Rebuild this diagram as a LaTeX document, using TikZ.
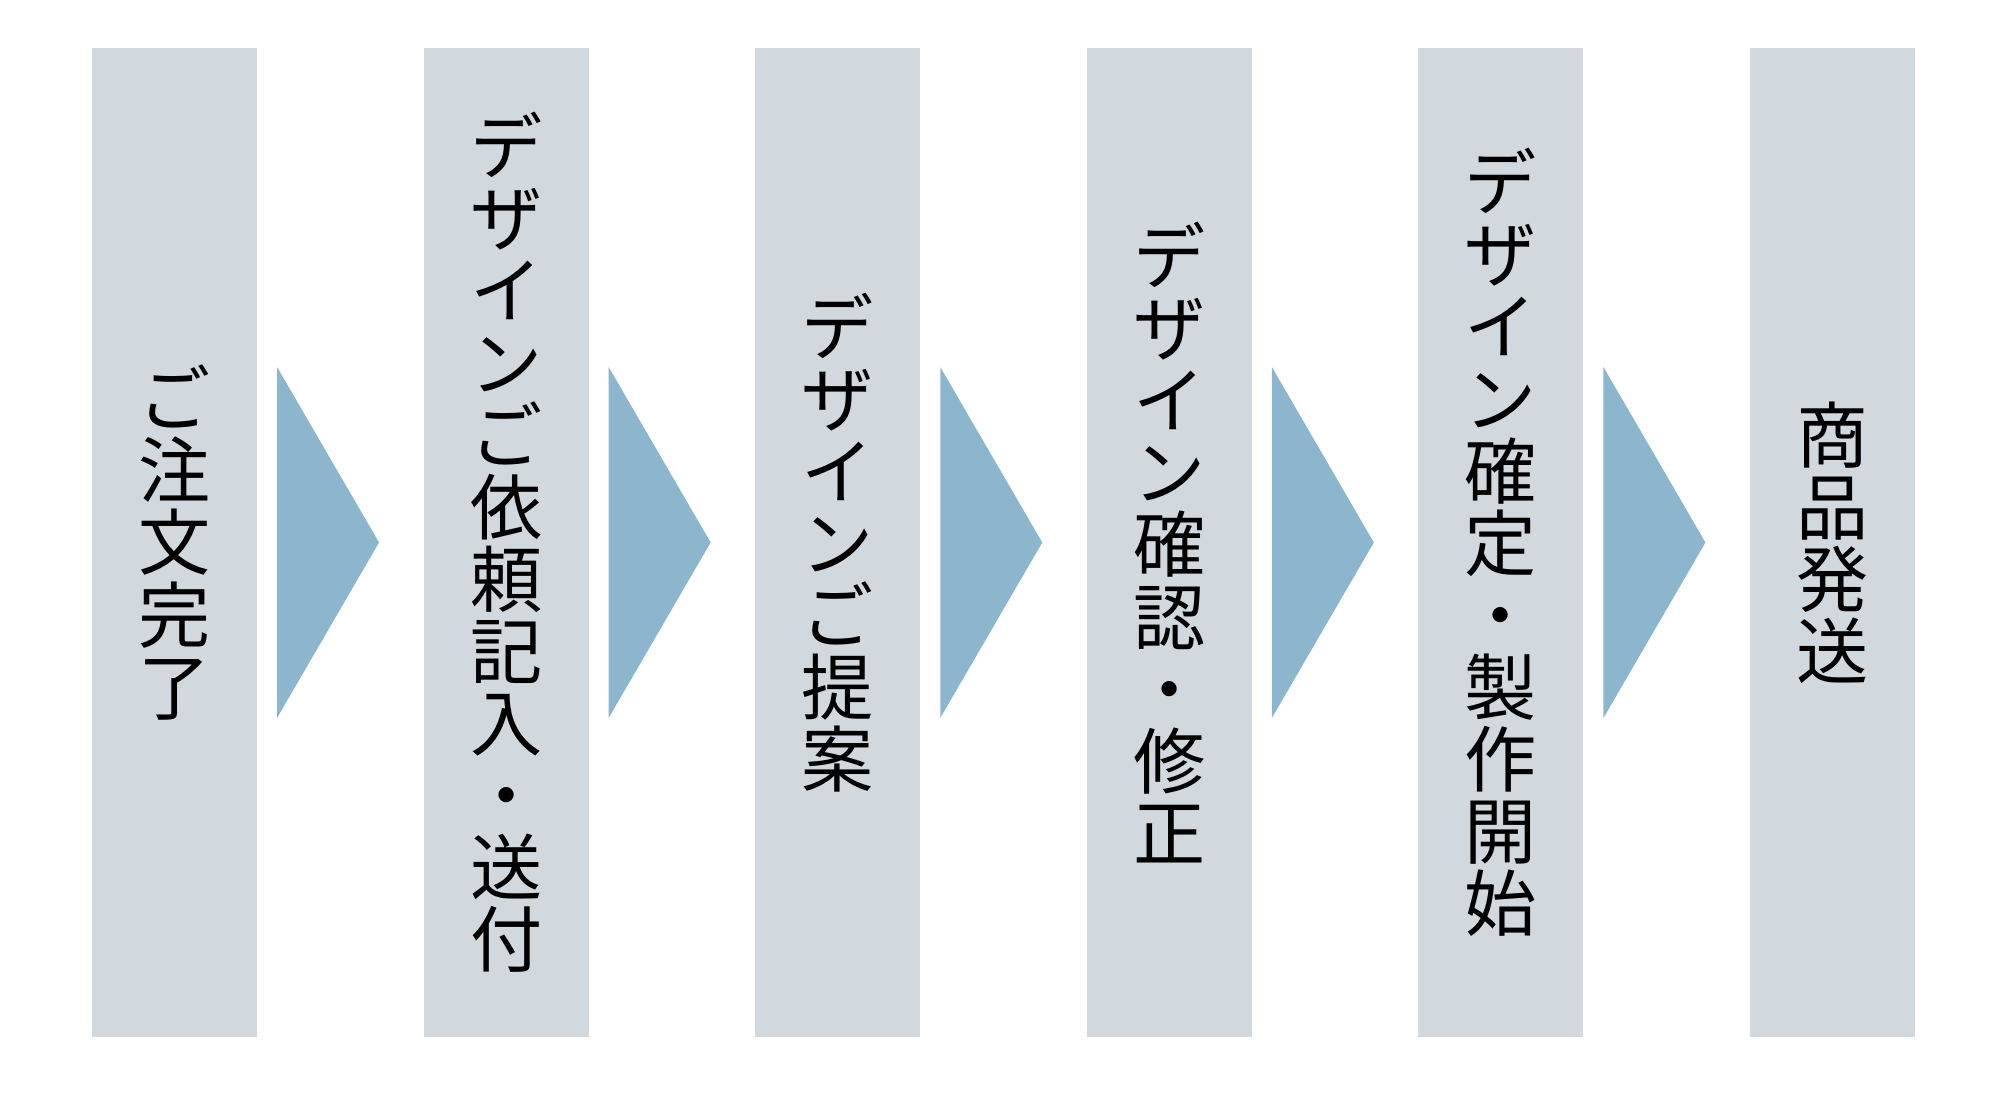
\documentclass[tikz,border=0pt]{standalone}
\usepackage{fontspec}
\newfontfamily\jpfont{Noto Sans CJK JP}
\usetikzlibrary{calc}
\definecolor{stepgray}{RGB}{209,217,222}
\definecolor{arrowblue}{RGB}{140,182,205}
\newcommand{\stepfont}{\jpfont\fontsize{20.5pt}{20.5pt}\selectfont\setlength{\lineskiplimit}{-20pt}}

\begin{document}
\begin{tikzpicture}[x=0.01cm, y=-0.01cm,
    stepbox/.style={fill=stepgray, minimum width=1.65cm, minimum height=9.89cm,
      inner sep=0pt, outer sep=0pt, align=center, font=\stepfont},
    arrowfill/.style={fill=arrowblue}]
        \useasboundingbox (0,0) rectangle (2005,1098);

        \node[stepbox] (s0) at (174.5,542.5) {ご\\注\\文\\完\\了};
        \node[stepbox] (s1) at (506.1,542.5) {デ\\ザ\\イ\\ン\\ご\\依\\頼\\記\\入\\・\\送\\付};
        \node[stepbox] (s2) at (837.7,542.5) {デ\\ザ\\イ\\ン\\ご\\提\\案};
        \node[stepbox] (s3) at (1169.3,542.5) {デ\\ザ\\イ\\ン\\確\\認\\・\\修\\正};
        \node[stepbox] (s4) at (1500.9,542.5) {デ\\ザ\\イ\\ン\\確\\定\\・\\製\\作\\開\\始};
        \node[stepbox] (s5) at (1832.5,542.5) {商\\品\\発\\送};

        % arrows between the steps
        \foreach \i in {0,...,4}
            \fill[arrowfill] ($(s\i.east)+(20,-175.5)$) -- ($(s\i.east)+(122,0)$)
                -- ($(s\i.east)+(20,175.5)$) -- cycle;
\end{tikzpicture}
\end{document}
